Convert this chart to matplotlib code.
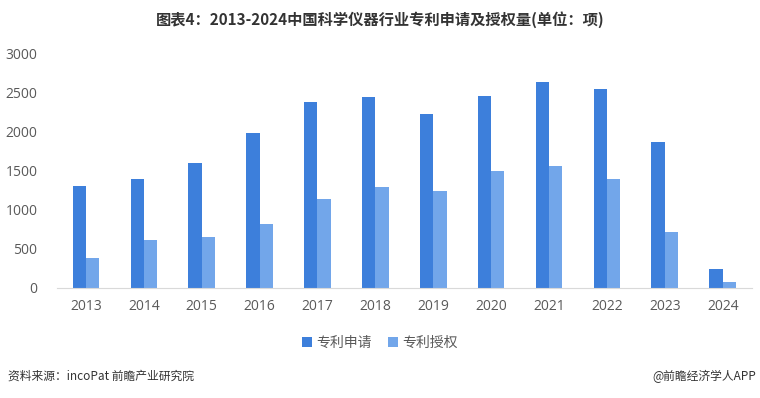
import matplotlib.pyplot as plt
import numpy as np

plt.rcParams['font.family'] = ['Noto Sans CJK SC', 'DejaVu Sans']

years = ['2013', '2014', '2015', '2016', '2017', '2018',
         '2019', '2020', '2021', '2022', '2023', '2024']
apply_cnt = [1300, 1390, 1600, 1985, 2380, 2440, 2225, 2450, 2640, 2550, 1865, 240]
grant_cnt = [385, 615, 650, 820, 1140, 1290, 1245, 1495, 1555, 1400, 720, 75]

c_apply = '#3d7fdb'
c_grant = '#72a6ea'
gray = '#595959'

fig = plt.figure(figsize=(7.6, 3.98), dpi=100)
ax = fig.add_axes([0.075, 0.2764, 0.914, 0.5894])

x = np.arange(len(years))
w = 0.23
ax.bar(x - w / 2, apply_cnt, w, color=c_apply, label='专利申请')
ax.bar(x + w / 2, grant_cnt, w, color=c_grant, label='专利授权')

ax.set_xlim(-0.5, len(years) - 0.5)
ax.set_ylim(0, 3000)
ax.set_yticks(range(0, 3001, 500))
ax.set_xticks(x)
ax.set_xticklabels(years)
for s in ['top', 'right', 'left']:
    ax.spines[s].set_visible(False)
ax.spines['bottom'].set_color('#d9d9d9')
ax.tick_params(axis='both', length=0, labelsize=10, labelcolor=gray)
ax.tick_params(axis='y', pad=14)
ax.tick_params(axis='x', pad=8)
for lab in ax.get_xticklabels() + ax.get_yticklabels():
    lab.set_family(['Open Sans', 'DejaVu Sans'])

fig.text(0.5, 0.95, '图表4：2013-2024中国科学仪器行业专利申请及授权量(单位：项)',
         ha='center', va='center', fontsize=11, fontweight='bold', color='#333333')

ax.legend(loc='center', bbox_to_anchor=(0.5, 0.1382), bbox_transform=fig.transFigure,
          ncol=2, frameon=False, fontsize=10, labelcolor=gray,
          handlelength=0.7, handleheight=0.7, handletextpad=0.3, columnspacing=1.2)

fig.text(0.01, 0.055, '资料来源：incoPat 前瞻产业研究院', ha='left', va='center',
         fontsize=8.5, color='#333333')
fig.text(0.995, 0.055, '@前瞻经济学人APP', ha='right', va='center',
         fontsize=8.5, color='#333333')

fig.savefig('out.png', dpi=100)
